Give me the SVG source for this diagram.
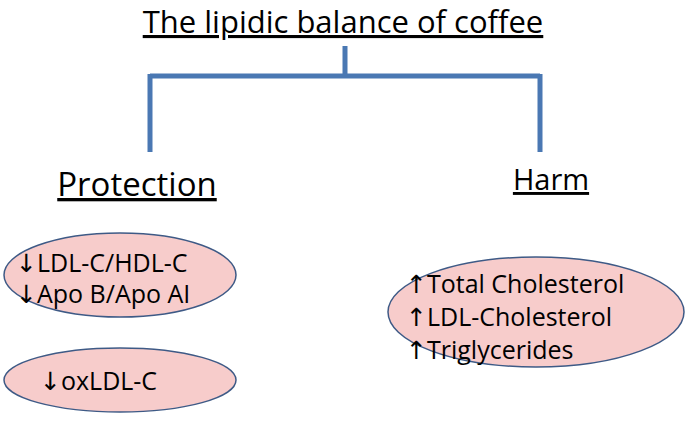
<svg xmlns="http://www.w3.org/2000/svg" width="700" height="434" viewBox="0 0 700 434">
<style>
text{font-family:"Open Sans","Liberation Sans",sans-serif;fill:#000}
.h{text-decoration:underline}
.e{fill:#f7cccb;stroke:#3e5a86;stroke-width:1.5}
.t{font-size:25px}
.a{font-family:"DejaVu Sans",sans-serif;font-size:25px}
</style>
<rect width="700" height="434" fill="#fff"/>
<g id="title"><text class="h" x="343" y="33" font-size="31" text-anchor="middle">The lipidic balance of coffee</text></g>
<g id="connectors" fill="none" stroke="#4a78b3" stroke-width="5">
<path d="M345 46V76M150 76H540M150 74V152M540 74V152"/>
</g>
<g id="protection"><text class="h" x="137" y="196" font-size="33" text-anchor="middle">Protection</text></g>
<g id="harm"><text class="h" x="551" y="190" font-size="29" text-anchor="middle">Harm</text></g>
<g id="p1"><ellipse class="e" cx="120" cy="275" rx="116" ry="42"/>
<text class="t" x="16" y="272"><tspan class="a">↓</tspan>LDL-C/HDL-C</text><text class="t" x="16" y="303"><tspan class="a">↓</tspan>Apo B/Apo AI</text></g>
<g id="p2"><ellipse class="e" cx="120" cy="380" rx="116" ry="32"/>
<text class="t" x="40" y="390"><tspan class="a">↓</tspan>oxLDL-C</text></g>
<g id="h1"><ellipse class="e" cx="536" cy="312" rx="148" ry="55"/>
<text class="t" x="406" y="293"><tspan class="a">↑</tspan>Total Cholesterol</text><text class="t" x="406" y="326"><tspan class="a">↑</tspan>LDL-Cholesterol</text><text class="t" x="406" y="359"><tspan class="a">↑</tspan>Triglycerides</text></g>
</svg>
